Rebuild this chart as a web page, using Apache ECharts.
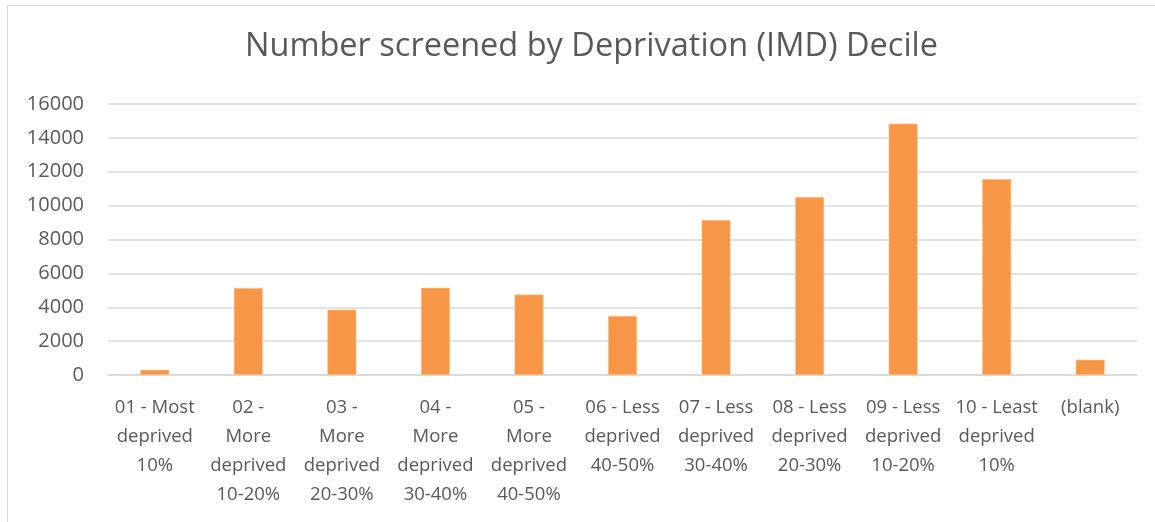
<!DOCTYPE html>
<html>
<head>
<meta charset="utf-8">
<script src="https://cdn.jsdelivr.net/npm/echarts@6/dist/echarts.min.js"></script>
<style>
  html, body { margin: 0; padding: 0; background: #fff; }
  #frame {
    position: absolute; left: 7px; top: 5px; width: 1160px; height: 530px;
    border-left: 1px solid #d9d9d9; border-top: 1px solid #d9d9d9;
  }
  #chart { position: absolute; left: 0; top: 0; width: 1155px; height: 522px; }
</style>
</head>
<body>
<div id="frame"></div>
<div id="chart"></div>
<script>
const title = 'Number screened by Deprivation (IMD) Decile'
const categories = [
  '01 - Most\ndeprived\n10%',
  '02 -\nMore\ndeprived\n10-20%',
  '03 -\nMore\ndeprived\n20-30%',
  '04 -\nMore\ndeprived\n30-40%',
  '05 -\nMore\ndeprived\n40-50%',
  '06 - Less\ndeprived\n40-50%',
  '07 - Less\ndeprived\n30-40%',
  '08 - Less\ndeprived\n20-30%',
  '09 - Less\ndeprived\n10-20%',
  '10 - Least\ndeprived\n10%',
  '(blank)'
]
const screened = [310, 5140, 3860, 5150, 4750, 3490, 9150, 10510, 14840, 11570, 910]

const chart = echarts.init(document.getElementById('chart'))

chart.setOption({
  animation: false,
  textStyle: { fontFamily: 'Open Sans' },
  title: {
    text: title,
    left: 240,
    top: 25,
    textStyle: { fontSize: 32.5, fontWeight: 'normal', color: '#595959', fontFamily: 'Open Sans' }
  },
  grid: { left: 108, right: 18, top: 104, bottom: 147 },
  xAxis: {
    type: 'category',
    data: categories,
    axisLine: { lineStyle: { color: '#d9d9d9', width: 1.5 } },
    axisTick: { show: false },
    axisLabel: {
      interval: 0,
      color: '#595959',
      fontSize: 18.5,
      lineHeight: 29,
      margin: 18
    }
  },
  yAxis: {
    type: 'value',
    min: 0,
    max: 16000,
    interval: 2000,
    axisLine: { show: false },
    axisTick: { show: false },
    splitLine: { lineStyle: { color: '#d9d9d9', width: 1.5 } },
    axisLabel: {
      color: '#595959',
      fontSize: 20,
      margin: 24,
      formatter: v => String(v)
    }
  },
  series: [{
    type: 'bar',
    data: screened,
    barWidth: '31%',
    itemStyle: { color: '#F79646', borderColor: '#fbc9a0', borderWidth: 0.6 }
  }]
})
</script>
</body>
</html>
